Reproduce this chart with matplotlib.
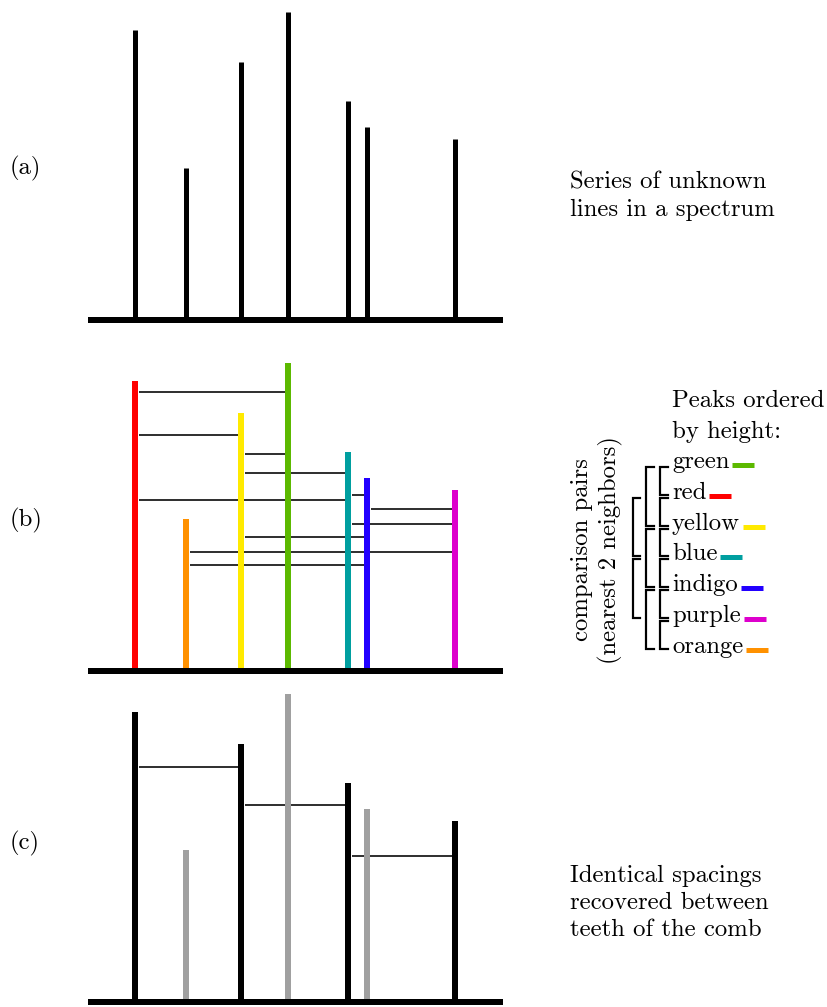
import matplotlib
matplotlib.use('Agg')
import matplotlib.pyplot as plt

# peaks of the spectrum (position, height), same in every panel
peak_pos = [135, 186, 241, 288, 348, 367, 455]
peak_height = [290, 152, 258, 308, 219, 193, 181]
peak_names = ['red', 'orange', 'yellow', 'green', 'blue', 'indigo', 'purple']
peak_colors = ['#ff0000', '#ff9100', '#ffea00', '#5cb900', '#009fa0', '#2200ff', '#dd00cc']

# pairs compared in panel (b) and the height of each link line
pairs_b = [('red', 'green'), ('red', 'yellow'), ('yellow', 'green'), ('yellow', 'blue'),
           ('blue', 'indigo'), ('red', 'blue'), ('indigo', 'purple'), ('blue', 'purple'),
           ('yellow', 'indigo'), ('orange', 'purple'), ('orange', 'indigo')]
pair_heights_b = [279, 236, 217, 198, 176, 171, 162, 147, 134, 119, 106]

# the comb teeth in panel (c) and their link lines
comb = ['red', 'yellow', 'blue', 'purple']
pairs_c = [('red', 'yellow'), ('yellow', 'blue'), ('blue', 'purple')]
pair_heights_c = [235, 197, 146]

# legend: peaks ordered by height, and the brackets (column, first, last)
order = ['green', 'red', 'yellow', 'blue', 'indigo', 'purple', 'orange']
brackets = [(0, 0, 1), (0, 1, 2), (0, 2, 3), (0, 3, 4), (0, 4, 5), (0, 5, 6),
            (1, 0, 2), (1, 2, 4), (1, 4, 6),
            (2, 1, 3), (2, 3, 5)]

plt.rcParams['font.family'] = ['cmr10', 'DejaVu Serif']
fs = 17.8

fig = plt.figure(figsize=(8.28, 10.07), dpi=100)
ax = fig.add_axes([0, 0, 1, 1])
ax.set_xlim(0, 828)
ax.set_ylim(1007, 0)
ax.axis('off')

px = 0.72  # points per pixel
pos = dict(zip(peak_names, peak_pos))
hgt = dict(zip(peak_names, peak_height))
col = dict(zip(peak_names, peak_colors))


def baseline(y0):
    ax.hlines(y0, 88, 503, color='black', lw=6 * px, capstyle='butt')


def links(y0, pairs, heights):
    for (a, b), h in zip(pairs, heights):
        xa, xb = sorted([pos[a], pos[b]])
        ax.hlines(y0 - h, xa + 4, xb - 3, color='black', lw=1.6 * px)


# panel (a)
y_a = 320
for x, h in zip(peak_pos, peak_height):
    ax.vlines(x, y_a, y_a - h, color='black', lw=5 * px, capstyle='butt')
baseline(y_a)
ax.text(10, 168, '(a)', fontsize=fs, va='center')
ax.text(570, 196, 'Series of unknown\nlines in a spectrum', fontsize=fs,
        va='center', linespacing=1.3)

# panel (b)
y_b = 671
links(y_b, pairs_b, pair_heights_b)
for n in peak_names:
    ax.vlines(pos[n], y_b, y_b - hgt[n], color=col[n], lw=6 * px, capstyle='butt')
baseline(y_b)
ax.text(10, 520, '(b)', fontsize=fs, va='center')

# panel (c)
y_c = 1002
links(y_c, pairs_c, pair_heights_c)
for n in peak_names:
    c = 'black' if n in comb else '#a0a0a0'
    ax.vlines(pos[n], y_c, y_c - hgt[n], color=c, lw=6 * px, capstyle='butt')
baseline(y_c)
ax.text(10, 843, '(c)', fontsize=fs, va='center')
ax.text(570, 903, 'Identical spacings\nrecovered between\nteeth of the comb',
        fontsize=fs, va='center', linespacing=1.3)

# legend
ax.text(672, 407, 'Peaks ordered', fontsize=fs, va='baseline')
ax.text(672, 438, 'by height:', fontsize=fs, va='baseline')
item_y = [468 + 30.8 * i for i in range(len(order))]
fig.canvas.draw()
renderer = fig.canvas.get_renderer()
inv = ax.transData.inverted()
for n, y in zip(order, item_y):
    t = ax.text(672, y, n, fontsize=fs, va='baseline')
    bb = t.get_window_extent(renderer)
    x_end = inv.transform((bb.x1, bb.y0))[0]
    ax.hlines(y - 3, x_end + 3, x_end + 25, color=col[n], lw=5 * px, capstyle='butt')

col_x = [660, 646, 633]
tick_w = [8, 8, 7]
for c, i, j in brackets:
    x0 = col_x[c]
    y0 = item_y[i] - 1
    y1 = item_y[j] - 4
    ax.plot([x0 + tick_w[c], x0, x0, x0 + tick_w[c]], [y0, y0, y1, y1],
            color='black', lw=2.2 * px, solid_joinstyle='miter')

ax.text(597, 550, 'comparison pairs\n(nearest 2 neighbors)', fontsize=fs,
        rotation=90, ha='center', va='center', multialignment='center',
        linespacing=1.3)

fig.savefig('out.png', dpi=100)
